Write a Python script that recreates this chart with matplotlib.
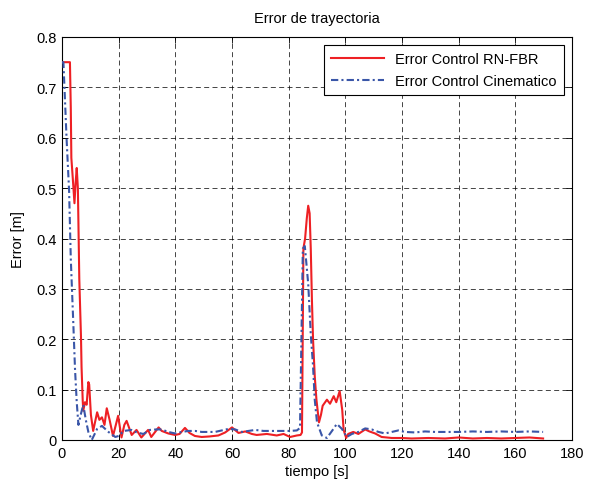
import matplotlib
matplotlib.use("Agg")
import matplotlib.pyplot as plt

plt.rcParams['font.family'] = ['Liberation Sans', 'DejaVu Sans']
plt.rcParams['font.size'] = 10.5

# Red: Error Control RN-FBR
t_rn = [0, 2.8, 3.1, 3.3, 3.8, 4.4, 4.8, 5.2, 5.6, 5.8, 6.1, 6.7, 6.9, 7.3, 7.5, 8.1, 8.7, 9.3, 9.6, 10.2, 11.0,
        12.4, 13.2, 14.1, 15.0, 15.8, 16.8, 18.0, 19.0, 19.8, 21.0, 22.0, 22.8, 24.6, 26.3, 28.0, 30.4, 31.5,
        34.1, 35.2, 37.5, 39.9, 41.5, 43.4, 45.0, 46.9, 49.3, 52.0, 55.2, 57.6, 60.0, 62.3, 64.7, 67.0,
        68.7, 72.3, 75.8, 78.2, 80.5, 82.9, 84.2, 84.7, 85.2, 85.8, 86.4, 86.9, 87.4, 87.8, 88.2, 88.6,
        89.2, 89.8, 90.7, 91.4, 92.0, 93.5, 94.6, 95.9, 96.8, 98.0, 98.9, 99.4, 100.3, 101.0, 102.8, 104.6,
        107.0, 108.5, 110.5, 112.8, 116.4, 119.9, 123.4, 129.3, 135.2, 140.0, 145.0, 150.0, 155.0, 160.0,
        165.0, 169.8]
e_rn = [0.75, 0.75, 0.66, 0.56, 0.52, 0.47, 0.51, 0.54, 0.50, 0.43, 0.32, 0.205, 0.145, 0.08, 0.058, 0.075, 0.07,
        0.115, 0.11, 0.05, 0.018, 0.055, 0.04, 0.045, 0.03, 0.063, 0.04, 0.008, 0.03, 0.048, 0.005, 0.03,
        0.038, 0.01, 0.02, 0.005, 0.02, 0.006, 0.025, 0.018, 0.013, 0.01, 0.012, 0.024, 0.014, 0.008, 0.006,
        0.007, 0.009, 0.015, 0.025, 0.014, 0.017, 0.012, 0.01, 0.012, 0.009, 0.012, 0.006, 0.009, 0.01,
        0.015, 0.38, 0.40, 0.44, 0.465, 0.45, 0.38, 0.28, 0.20, 0.127, 0.08, 0.035, 0.05, 0.068, 0.08, 0.072,
        0.087, 0.075, 0.097, 0.06, 0.02, 0.004, 0.012, 0.016, 0.012, 0.021, 0.017, 0.013, 0.006, 0.004,
        0.004, 0.003, 0.004, 0.003, 0.005, 0.003, 0.004, 0.003, 0.004, 0.005, 0.003]

# Blue: Error Control Cinematico
t_ci = [0, 0.5, 1.6, 2.5, 3.1, 4.0, 4.6, 5.2, 5.8, 6.6, 7.5, 8.4, 9.3, 10.5, 12.4, 14.1, 16.4, 18.8, 20.0,
        21.8, 24.6, 26.4, 28.7, 31.0, 33.4, 35.2, 37.5, 39.9, 42.3, 44.6, 47.0, 49.3, 52.0, 54.0, 56.4,
        58.7, 61.1, 63.5, 65.8, 68.2, 71.1, 75.8, 80.5, 82.9, 84.0, 84.5, 85.0, 85.7, 86.9, 87.8, 88.6,
        89.2, 90.0, 91.7, 93.5, 95.8, 97.0, 98.8, 100.5, 102.3, 104.6, 107.0, 109.3, 111.7, 114.0, 116.4,
        118.7, 121.1, 124.6, 128.1, 131.7, 135.2, 140.0, 145.0, 150.0, 155.0, 160.0, 165.0, 169.8]
e_ci = [0.75, 0.75, 0.60, 0.495, 0.36, 0.23, 0.14, 0.075, 0.03, 0.05, 0.07, 0.04, 0.016, 0.0, 0.022, 0.028,
        0.016, 0.006, 0.008, 0.018, 0.02, 0.015, 0.012, 0.02, 0.021, 0.021, 0.016, 0.013, 0.016, 0.018,
        0.018, 0.016, 0.016, 0.016, 0.019, 0.022, 0.021, 0.016, 0.018, 0.02, 0.018, 0.018, 0.018, 0.019,
        0.024, 0.2, 0.38, 0.385, 0.31, 0.21, 0.147, 0.08, 0.035, 0.009, 0.004, 0.022, 0.032, 0.022, 0.006,
        0.012, 0.016, 0.023, 0.021, 0.016, 0.013, 0.016, 0.019, 0.016, 0.015, 0.017, 0.016, 0.016, 0.016,
        0.017, 0.016, 0.017, 0.016, 0.017, 0.016]

x_ticks = [0, 20, 40, 60, 80, 100, 120, 140, 160, 180]
y_ticks = [0, 0.1, 0.2, 0.3, 0.4, 0.5, 0.6, 0.7, 0.8]
y_ticklabels = ['0', '0.1', '0.2', '0.3', '0.4', '0.5', '0.6', '0.7', '0.8']

fig = plt.figure(figsize=(5.89, 4.81), dpi=100)
ax = fig.add_axes([62/589, 40/481, 510/589, 403/481])

ax.plot(t_rn, e_rn, color='#EE2024', lw=1.5, label='Error Control RN-FBR', zorder=3)
ax.plot(t_ci, e_ci, color='#3A56A8', lw=1.5, ls=(0, (3.5, 1.5, 1.0, 1.5)),
        label='Error Control Cinematico', zorder=3)

ax.set_xlim(0, 180)
ax.set_ylim(0, 0.8)
ax.set_xticks(x_ticks)
ax.set_yticks(y_ticks)
ax.set_yticklabels(y_ticklabels)
ax.tick_params(direction='in', top=True, right=True, length=4, width=0.6, labelsize=10.5, pad=4)
ax.grid(True, color='black', ls=(0, (6, 4)), lw=0.6, alpha=0.85)
for s in ax.spines.values():
    s.set_linewidth(0.8)

ax.set_title('Error de trayectoria', fontsize=10.5, pad=11)
ax.set_xlabel('tiempo [s]', fontsize=10.5, labelpad=3)
ax.set_ylabel('Error [m]', fontsize=10.5, labelpad=8)

leg = ax.legend(loc='upper right', fancybox=False, framealpha=1, edgecolor='black',
                handlelength=3.6, borderaxespad=0.55, fontsize=10.5, borderpad=0.5)
leg.get_frame().set_linewidth(0.8)

fig.savefig('out.png', dpi=100)
